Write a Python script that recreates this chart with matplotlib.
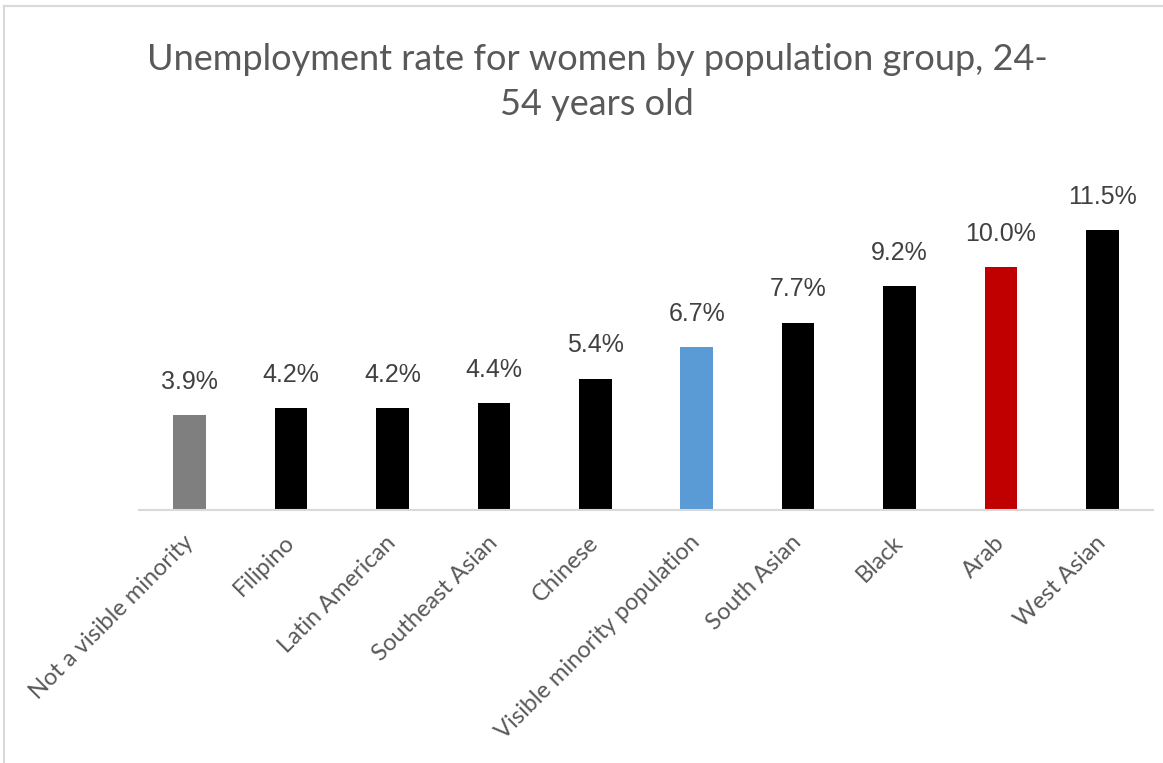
import matplotlib
matplotlib.use("Agg")
import matplotlib.pyplot as plt
from matplotlib.lines import Line2D

# unemployment rate (%) for women aged 24-54, by population group
groups = ["Not a visible minority", "Filipino", "Latin American", "Southeast Asian",
          "Chinese", "Visible minority population", "South Asian", "Black", "Arab",
          "West Asian"]
rates = [3.9, 4.2, 4.2, 4.4, 5.4, 6.7, 7.7, 9.2, 10.0, 11.5]
bar_colors = ["#7f7f7f", "#000000", "#000000", "#000000", "#000000", "#5b9bd5",
              "#000000", "#000000", "#c00000", "#000000"]

fig = plt.figure(figsize=(11.63, 7.63), dpi=100)
fig.patch.set_facecolor("white")

# frame lines along top and left edge
fig.add_artist(Line2D([4/1163, 4/1163], [0, 1 - 6/763], color="#d9d9d9", lw=1.5))
fig.add_artist(Line2D([4/1163, 1], [1 - 6/763, 1 - 6/763], color="#d9d9d9", lw=1.5))

ax = fig.add_axes([139/1163, 253/763, 1014/1163, 316/763])
x = range(len(groups))
ax.bar(x, rates, width=0.32, color=bar_colors)
ax.set_xlim(-0.5, len(groups) - 0.5)
ax.set_ylim(0, 13)

for i, v in enumerate(rates):
    ax.annotate(f"{v:.1f}%", (i, v), xytext=(0, 19), textcoords="offset points",
                ha="center", va="baseline", fontsize=18, color="#404040",
                family="Liberation Sans", annotation_clip=False)

for s in ["top", "right", "left"]:
    ax.spines[s].set_visible(False)
ax.spines["bottom"].set_color("#d9d9d9")
ax.spines["bottom"].set_linewidth(1.5)
ax.set_yticks([])
ax.set_xticks(list(x))
ax.set_xticklabels(groups, rotation=45, ha="right", va="center",
                   rotation_mode="anchor", fontsize=17, color="#595959",
                   family="Lato")
ax.tick_params(axis="x", length=0, pad=21)

fig.text(597/1163, 1 - 82/763, "Unemployment rate for women by population group, 24-\n54 years old",
         ha="center", va="center", fontsize=26, color="#595959", family="Lato",
         linespacing=1.45, multialignment="center")

fig.savefig("out.png", dpi=100)
